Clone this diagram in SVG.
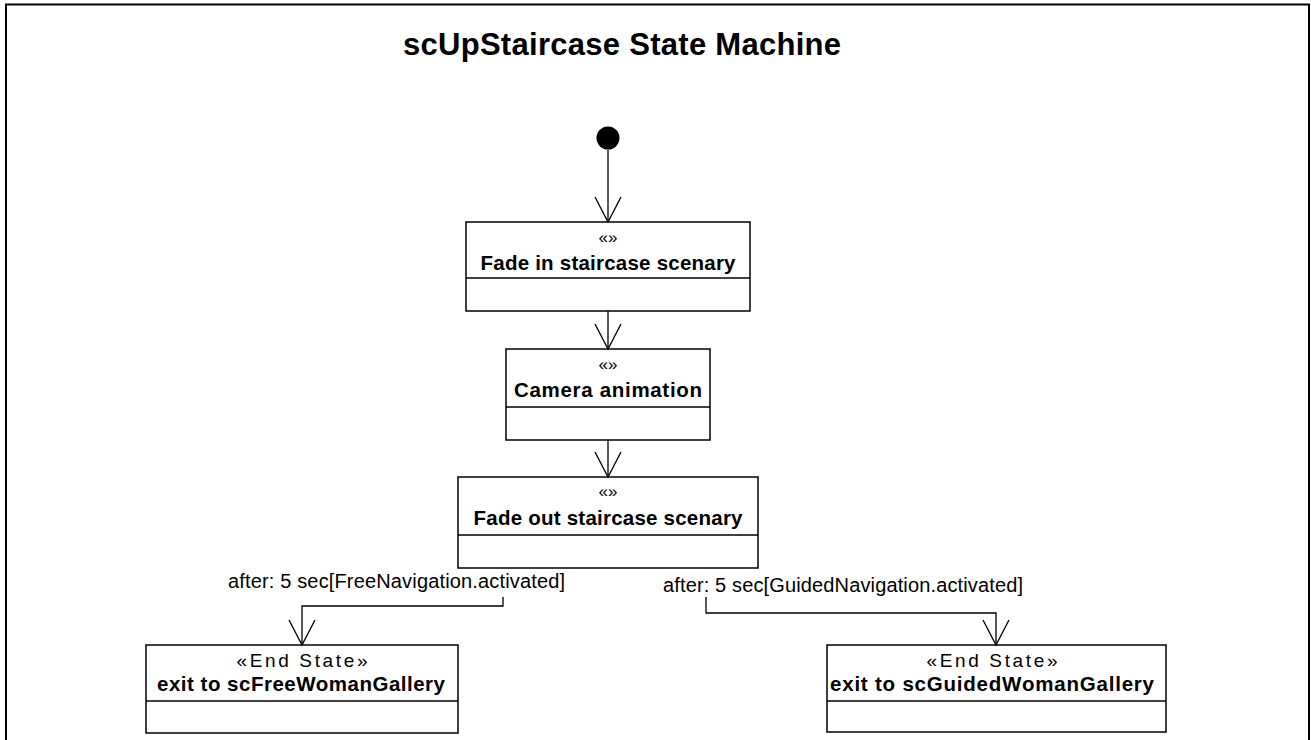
<svg xmlns="http://www.w3.org/2000/svg" width="1311" height="740" viewBox="0 0 1311 740">
<style>
.box{fill:#fff;stroke:#000;stroke-width:1.5}
.div{stroke:#000;stroke-width:1.5}
.edge{fill:none;stroke:#000;stroke-width:1.3}
.st{font-family:"Liberation Sans",Arial,sans-serif;font-size:17px;text-anchor:middle;fill:#000}
.est{font-family:"Liberation Sans",Arial,sans-serif;font-size:19px;text-anchor:middle;fill:#000}
.nm{font-family:"Liberation Sans",Arial,sans-serif;font-size:20.5px;font-weight:bold;text-anchor:middle;fill:#000}
.lbl{font-family:"Liberation Sans",Arial,sans-serif;font-size:20px;fill:#000}
.title{font-family:"Liberation Sans",Arial,sans-serif;font-size:31px;font-weight:bold;text-anchor:middle;fill:#000}
</style>
<defs>
<marker id="open" markerUnits="userSpaceOnUse" markerWidth="30" markerHeight="30" refX="25" refY="13" orient="auto" viewBox="0 0 30 26">
<path d="M0,0 L25,13 L0,26" fill="none" stroke="#000" stroke-width="1.3"/>
</marker>
</defs>
<rect x="0" y="0" width="1311" height="740" fill="#fff"/>
<rect x="6" y="4.5" width="1303" height="800" fill="none" stroke="#000" stroke-width="2"/>
<text class="title" x="622" y="55" textLength="438">scUpStaircase State Machine</text>

<g id="initial">
<circle cx="608" cy="138" r="11.5" fill="#000"/>
</g>

<g id="fadeIn">
<rect class="box" x="466" y="222" width="284" height="89"/>
<line class="div" x1="466" y1="278" x2="750" y2="278"/>
<text class="st" x="608" y="243">«»</text>
<text class="nm" x="608" y="270" textLength="255">Fade in staircase scenary</text>
</g>

<g id="camera">
<rect class="box" x="506" y="349" width="204" height="91"/>
<line class="div" x1="506" y1="407" x2="710" y2="407"/>
<text class="st" x="608" y="370">«»</text>
<text class="nm" x="608" y="397" textLength="188">Camera animation</text>
</g>

<g id="fadeOut">
<rect class="box" x="458" y="477" width="300" height="91"/>
<line class="div" x1="458" y1="535" x2="758" y2="535"/>
<text class="st" x="608" y="497">«»</text>
<text class="nm" x="608" y="525" textLength="269">Fade out staircase scenary</text>
</g>

<g id="exitFree">
<rect class="box" x="146" y="645" width="312" height="88"/>
<line class="div" x1="146" y1="701" x2="458" y2="701"/>
<text class="est" x="302" y="667" textLength="131">«End State»</text>
<text class="nm" x="301" y="691" textLength="288">exit to scFreeWomanGallery</text>
</g>

<g id="exitGuided">
<rect class="box" x="827" y="645" width="339" height="87"/>
<line class="div" x1="827" y1="701" x2="1166" y2="701"/>
<text class="est" x="992" y="667" textLength="131">«End State»</text>
<text class="nm" x="992" y="691" textLength="324">exit to scGuidedWomanGallery</text>
</g>

<g id="connectors">
<line class="edge" x1="608" y1="150" x2="608" y2="222" marker-end="url(#open)"/>
<line class="edge" x1="608" y1="311" x2="608" y2="349" marker-end="url(#open)"/>
<line class="edge" x1="608" y1="440" x2="608" y2="477" marker-end="url(#open)"/>
<polyline class="edge" points="503,597 503,606 302,606 302,645" marker-end="url(#open)"/>
<polyline class="edge" points="706,597 706,613 996,613 996,645" marker-end="url(#open)"/>
<text class="lbl" x="228" y="588" textLength="337">after: 5 sec[FreeNavigation.activated]</text>
<text class="lbl" x="663" y="592" textLength="360">after: 5 sec[GuidedNavigation.activated]</text>
</g>
</svg>
